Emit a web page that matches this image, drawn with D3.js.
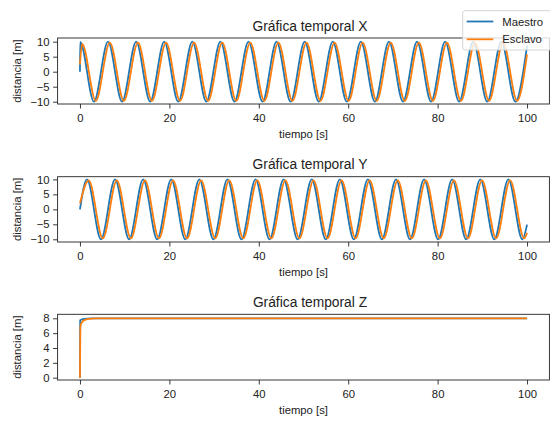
<!DOCTYPE html>
<html>
<head>
<meta charset="utf-8">
<script src="https://cdn.jsdelivr.net/npm/d3@7"></script>
<style>
  body { margin: 0; background: #fff; }
  svg { display: block; font-family: 'Liberation Sans', sans-serif; }
</style>
</head>
<body>
<div class="graph"><svg></svg></div>
<script>
// Values: [tiempo, distancia] at extrema / key points
const xMaestro = [[0, 0], [0.05, 9.9], [3.14, -10], [6.28, 10], [9.42, -10], [12.57, 10], [15.71, -10],
  [18.85, 10], [21.99, -10], [25.13, 10], [28.27, -10], [31.42, 10], [34.56, -10], [37.7, 10],
  [40.84, -10], [43.98, 10], [47.12, -10], [50.27, 10], [53.41, -10], [56.55, 10], [59.69, -10],
  [62.83, 10], [65.97, -10], [69.12, 10], [72.26, -10], [75.4, 10], [78.54, -10], [81.68, 10],
  [84.82, -10], [87.96, 10], [91.11, -10], [94.25, 10], [97.39, -10], [100, 8.6]]
const xEsclavo = [[0, 2.4], [0.5, 9.3], [3.54, -9.7], [6.68, 9.7], [9.82, -9.7], [12.97, 9.7], [16.11, -9.7],
  [19.25, 9.7], [22.39, -9.7], [25.53, 9.7], [28.67, -9.7], [31.82, 9.7], [34.96, -9.7], [38.1, 9.7],
  [41.24, -9.7], [44.38, 9.7], [47.52, -9.7], [50.67, 9.7], [53.81, -9.7], [56.95, 9.7], [60.09, -9.7],
  [63.23, 9.7], [66.37, -9.7], [69.52, 9.7], [72.66, -9.7], [75.8, 9.7], [78.94, -9.7], [82.08, 9.7],
  [85.22, -9.7], [88.36, 9.7], [91.51, -9.7], [94.65, 9.7], [97.79, -9.7], [100, 5.8]]
const yMaestro = [[0, 0], [1.57, 10], [4.71, -10], [7.85, 10], [11.0, -10], [14.14, 10], [17.28, -10],
  [20.42, 10], [23.56, -10], [26.7, 10], [29.85, -10], [32.99, 10], [36.13, -10], [39.27, 10],
  [42.41, -10], [45.55, 10], [48.69, -10], [51.84, 10], [54.98, -10], [58.12, 10], [61.26, -10],
  [64.4, 10], [67.54, -10], [70.69, 10], [73.83, -10], [76.97, 10], [80.11, -10], [83.25, 10],
  [86.39, -10], [89.54, 10], [92.68, -10], [95.82, 10], [98.96, -10], [100, -5.1]]
const yEsclavo = [[0, 2], [1.97, 9.7], [5.11, -9.7], [8.25, 9.7], [11.4, -9.7], [14.54, 9.7], [17.68, -9.7],
  [20.82, 9.7], [23.96, -9.7], [27.1, 9.7], [30.25, -9.7], [33.39, 9.7], [36.53, -9.7], [39.67, 9.7],
  [42.81, -9.7], [45.95, 9.7], [49.09, -9.7], [52.24, 9.7], [55.38, -9.7], [58.52, 9.7], [61.66, -9.7],
  [64.8, 9.7], [67.94, -9.7], [71.09, 9.7], [74.23, -9.7], [77.37, 9.7], [80.51, -9.7], [83.65, 9.7],
  [86.79, -9.7], [89.94, 9.7], [93.08, -9.7], [96.22, 9.7], [99.36, -9.7], [100, -7.8]]
const zMaestro = [[0, 0], [0.05, 7.75], [1, 7.93], [2.5, 8.0], [100, 8.0]]
const zEsclavo = [[0, 0], [0.12, 7.0], [0.5, 7.5], [1, 7.75], [2, 7.93], [3.5, 8.0], [100, 8.0]]

const titles = ['Gráfica temporal X', 'Gráfica temporal Y', 'Gráfica temporal Z']
const seriesNames = ['Maestro', 'Esclavo']
const xTicks = [0, 20, 40, 60, 80, 100]
const yTicksXY = [-10, -5, 0, 5, 10]
const yTicksZ = [0, 2, 4, 6, 8]

const colors = ['#1f77b4', '#ff7f0e']
const left = 57.6
const right = 549.4
const fontSmall = 11.3
const panels = [
  { top: 38, bottom: 104, domain: [-10.77, 11.23], ticks: yTicksXY, data: [xMaestro, xEsclavo] },
  { top: 176.7, bottom: 242, domain: [-10.9, 10.9], ticks: yTicksXY, data: [yMaestro, yEsclavo] },
  { top: 314.3, bottom: 380, domain: [-0.31, 8.54], ticks: yTicksZ, data: [zMaestro, zEsclavo] }
]

const svg = d3.select('.graph').select('svg')
  .attr('width', 550)
  .attr('height', 423)

const xScale = d3.scaleLinear().domain([-5, 105]).range([left, right])

/**
 * Draws one subplot (axes, lines, labels).
 *
 * @param {object} p The panel description
 * @param {number} i The panel index
 */
function drawPanel (p, i) {
  const yScale = d3.scaleLinear().domain(p.domain).range([p.bottom, p.top])
  const g = svg.append('g')

  const line = d3.line()
    .x(d => xScale(d[0]))
    .y(d => yScale(d[1]))
    .curve(d3.curveMonotoneX)

  p.data.forEach((s, k) => {
    g.append('path')
      .datum(s)
      .attr('fill', 'none')
      .attr('stroke', colors[k])
      .attr('stroke-width', 1.8)
      .attr('stroke-linejoin', 'round')
      .attr('d', line)
  })

  const xAxis = d3.axisBottom(xScale).tickValues(xTicks).tickSizeOuter(0).tickSize(4.5).tickPadding(5)
  g.append('g')
    .attr('class', 'x axis')
    .attr('transform', 'translate(0,' + p.bottom + ')')
    .call(xAxis)

  const yAxis = d3.axisLeft(yScale).tickValues(p.ticks).tickSizeOuter(0).tickSize(4.5).tickPadding(3.5)
    .tickFormat(d => d < 0 ? '\u2212' + Math.abs(d) : d)
  g.append('g')
    .attr('class', 'y axis')
    .attr('transform', 'translate(' + left + ',0)')
    .call(yAxis)

  g.selectAll('.axis .domain').remove()
  g.selectAll('.axis text').attr('font-size', fontSmall).attr('fill', '#222').attr('font-family', 'Liberation Sans')
  g.selectAll('.axis line').attr('stroke', '#222').attr('stroke-width', 0.9)

  // frame
  g.append('rect')
    .attr('x', left)
    .attr('y', p.top)
    .attr('width', right - left)
    .attr('height', p.bottom - p.top)
    .attr('fill', 'none')
    .attr('stroke', '#222')
    .attr('stroke-width', 0.9)

  g.append('text')
    .text(titles[i])
    .attr('x', 310)
    .attr('y', p.top - 7.3)
    .attr('text-anchor', 'middle')
    .attr('font-size', 13.8)
    .attr('fill', '#222')

  g.append('text')
    .text('tiempo [s]')
    .attr('x', 303.5)
    .attr('y', p.bottom + 33.5)
    .attr('text-anchor', 'middle')
    .attr('font-size', fontSmall)
    .attr('fill', '#222')

  g.append('text')
    .text('distancia [m]')
    .attr('transform', 'translate(21,' + (p.top + p.bottom) / 2 + ') rotate(-90)')
    .attr('text-anchor', 'middle')
    .attr('font-size', fontSmall)
    .attr('fill', '#222')
}

panels.forEach(drawPanel)

// legend (figure level, partly cut at the right edge)
const legend = svg.append('g')
legend.append('rect')
  .attr('x', 462.7)
  .attr('y', 10.7)
  .attr('width', 100)
  .attr('height', 39.3)
  .attr('rx', 2.5)
  .attr('fill', '#fff')
  .attr('fill-opacity', 0.8)
  .attr('stroke', '#d0d0d0')
  .attr('stroke-width', 0.9)

seriesNames.forEach((name, k) => {
  const y = 21.5 + k * 17.8
  legend.append('line')
    .attr('x1', 466.7)
    .attr('x2', 493.3)
    .attr('y1', y)
    .attr('y2', y)
    .attr('stroke', colors[k])
    .attr('stroke-width', 1.8)
  legend.append('text')
    .text(name)
    .attr('x', 502.3)
    .attr('y', y + 4)
    .attr('font-size', fontSmall)
    .attr('fill', '#222')
})
</script>
</body>
</html>
